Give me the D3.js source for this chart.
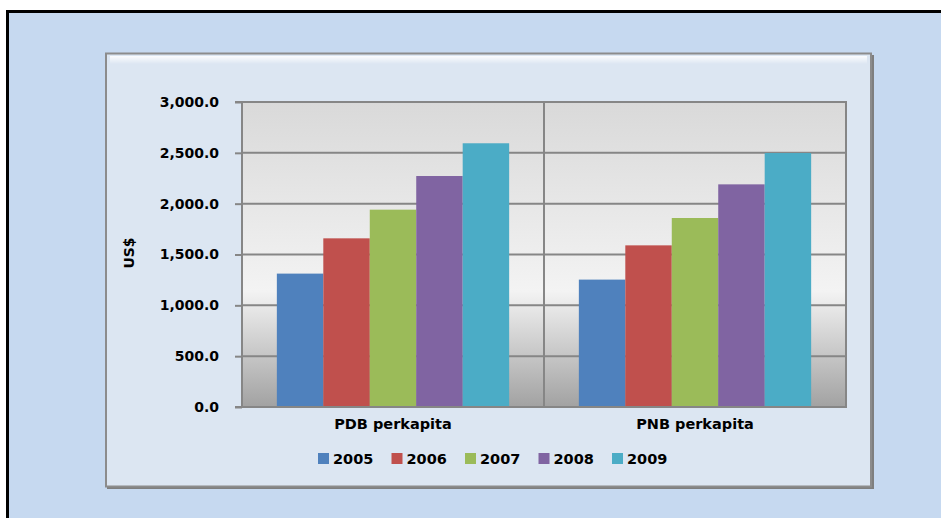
<!DOCTYPE html>
<html>
<head>
<meta charset="utf-8">
<script src="https://cdn.jsdelivr.net/npm/d3@7"></script>
<style>
  html, body { margin: 0; padding: 0; background: #ffffff; }
  svg { display: block; }
  text { font-family: "DejaVu Sans", Verdana, sans-serif; font-weight: bold; fill: #000; }
</style>
</head>
<body>
<svg id="chart" width="941" height="518"></svg>
<script>
const categories = ["PDB perkapita", "PNB perkapita"];
const years = ["2005", "2006", "2007", "2008", "2009"];
const values2005 = [1312, 1253];
const values2006 = [1659, 1590];
const values2007 = [1941, 1859];
const values2008 = [2272, 2190];
const values2009 = [2594, 2498];
const seriesValues = [values2005, values2006, values2007, values2008, values2009];
const colors = ["#4f81bd", "#c0504d", "#9bbb59", "#8064a2", "#4bacc6"];
const yTicks = [0, 500, 1000, 1500, 2000, 2500, 3000];
const yTitle = "US$";

const svg = d3.select("#chart");
const defs = svg.append("defs");

// Outer frame
svg.append("rect").attr("x", 7.5).attr("y", 11.5).attr("width", 945).attr("height", 520)
  .attr("fill", "#c6d9f0").attr("stroke", "#000").attr("stroke-width", 3);

// Chart area box
const plotGrad = defs.append("linearGradient").attr("id", "plotGrad").attr("x1", 0).attr("y1", 0).attr("x2", 0).attr("y2", 1);
plotGrad.append("stop").attr("offset", "0%").attr("stop-color", "#d9d9d9");
plotGrad.append("stop").attr("offset", "62%").attr("stop-color", "#f3f3f3");
plotGrad.append("stop").attr("offset", "100%").attr("stop-color", "#a2a2a2");

const hiGrad = defs.append("linearGradient").attr("id", "hiGrad").attr("x1", 0).attr("y1", 0).attr("x2", 0).attr("y2", 1);
hiGrad.append("stop").attr("offset", "0%").attr("stop-color", "#ffffff").attr("stop-opacity", 0.9);
hiGrad.append("stop").attr("offset", "100%").attr("stop-color", "#ffffff").attr("stop-opacity", 0);

svg.append("rect").attr("x", 107).attr("y", 55).attr("width", 767).attr("height", 434)
  .attr("fill", "#7f7f7f");
svg.append("rect").attr("x", 106).attr("y", 53.5).attr("width", 765).attr("height", 433)
  .attr("fill", "#dce6f2").attr("stroke", "#8c8c8c").attr("stroke-width", 2);
svg.append("rect").attr("x", 110).attr("y", 56).attr("width", 757).attr("height", 8)
  .attr("fill", "url(#hiGrad)");

const margin = { left: 242, right: 846, top: 102, bottom: 407 };

const y = d3.scaleLinear().domain([0, 3000]).range([margin.bottom, margin.top]);
const x0 = d3.scaleBand().domain(categories).range([margin.left, margin.right]).padding(0);
const x1 = d3.scaleBand().domain(years).range([0, x0.bandwidth()]).paddingInner(0).paddingOuter(0.75);

// Plot background
svg.append("rect").attr("x", margin.left).attr("y", margin.top)
  .attr("width", margin.right - margin.left).attr("height", margin.bottom - margin.top)
  .attr("fill", "url(#plotGrad)");

// Gridlines
svg.append("g").selectAll("line").data(yTicks.filter(d => d > 0)).join("line")
  .attr("x1", margin.left).attr("x2", margin.right)
  .attr("y1", d => y(d)).attr("y2", d => y(d))
  .attr("stroke", "#868686").attr("stroke-width", 2);

// Category dividers and right border
svg.append("g").selectAll("line").data(categories.slice(1)).join("line")
  .attr("x1", d => x0(d)).attr("x2", d => x0(d))
  .attr("y1", margin.top).attr("y2", margin.bottom)
  .attr("stroke", "#868686").attr("stroke-width", 2);
svg.append("line").attr("x1", margin.right).attr("x2", margin.right)
  .attr("y1", margin.top - 1).attr("y2", margin.bottom)
  .attr("stroke", "#868686").attr("stroke-width", 2);

// Bars
const groups = svg.append("g").selectAll("g").data(years).join("g")
  .attr("fill", (d, i) => colors[i]);
groups.selectAll("rect").data((yr, i) => categories.map((c, j) => ({ c, v: seriesValues[i][j], yr })))
  .join("rect")
  .attr("x", d => x0(d.c) + x1(d.yr))
  .attr("width", x1.bandwidth())
  .attr("y", d => y(d.v))
  .attr("height", d => y(0) - y(d.v));

// Y axis
const yAxis = d3.axisLeft(y).tickValues(yTicks).tickSize(7).tickPadding(16)
  .tickFormat(d => d3.format(",.1f")(d));
const gy = svg.append("g").attr("transform", `translate(${margin.left},0)`).call(yAxis);
gy.select(".domain").attr("stroke", "#868686").attr("stroke-width", 2).attr("d", `M-7,${y(3000)}H0V${y(0)}`);
gy.selectAll(".tick line").attr("stroke", "#868686").attr("stroke-width", 2);
gy.selectAll(".tick text").attr("font-size", 14).attr("font-weight", "bold")
  .attr("font-family", "DejaVu Sans, Verdana, sans-serif").attr("fill", "#000");

// X axis line
svg.append("line").attr("x1", margin.left - 7).attr("x2", margin.right + 1)
  .attr("y1", margin.bottom).attr("y2", margin.bottom)
  .attr("stroke", "#868686").attr("stroke-width", 2);

// X axis labels
const xAxis = d3.axisBottom(x0).tickSize(0).tickPadding(12);
const gx = svg.append("g").attr("transform", `translate(0,${margin.bottom})`).call(xAxis);
gx.select(".domain").remove();
gx.selectAll(".tick text").attr("font-size", 14.5).attr("font-weight", "bold")
  .attr("font-family", "DejaVu Sans, Verdana, sans-serif").attr("fill", "#000");

// Y title
svg.append("text").attr("transform", "translate(134,253) rotate(-90)")
  .attr("text-anchor", "middle").attr("font-size", 14).text(yTitle);

// Legend
const legend = svg.append("g").attr("transform", "translate(318,453)");
const li = legend.selectAll("g").data(years).join("g")
  .attr("transform", (d, i) => `translate(${i * 73.5},0)`);
li.append("rect").attr("width", 11).attr("height", 11).attr("fill", (d, i) => colors[i]);
li.append("text").attr("x", 15).attr("y", 10.5).attr("font-size", 14.5).text(d => d);
</script>
</body>
</html>
